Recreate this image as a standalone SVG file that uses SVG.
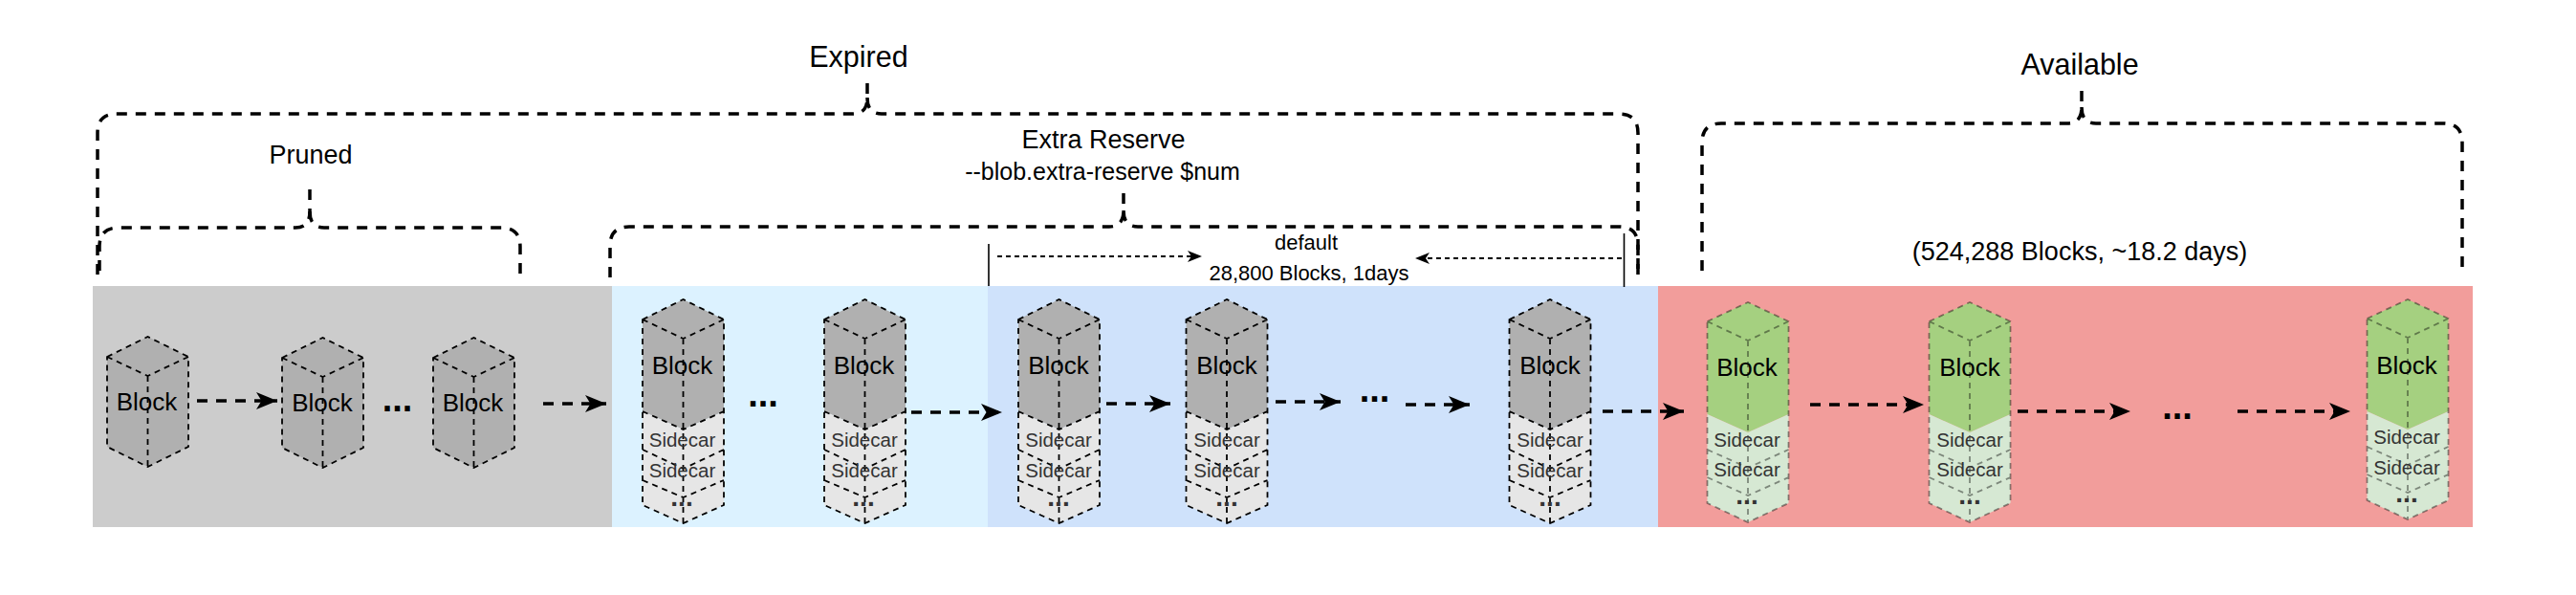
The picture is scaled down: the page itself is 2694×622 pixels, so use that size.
<svg xmlns="http://www.w3.org/2000/svg" xmlns:xlink="http://www.w3.org/1999/xlink" width="2694" height="622" viewBox="0 0 2694 622">
<style>
text{font-family:"Liberation Sans",Arial,sans-serif;text-anchor:middle;fill:#000}
.bl{font-size:26px}
.sc{font-size:20.500px;fill:#333}
.dt{font-size:28px;font-weight:bold;fill:#333}
.dm{font-size:38px;font-weight:bold}
.brace{fill:none;stroke:#000;stroke-width:3.5;stroke-dasharray:11 9}
.conn{fill:none;stroke:#000;stroke-width:3.5;stroke-dasharray:11 9;marker-end:url(#ah)}
.thin{fill:none;stroke:#000;stroke-width:2;stroke-dasharray:5 4;marker-end:url(#ahs)}
.tick{stroke:#000;stroke-width:1.6;fill:none}
.e{fill:none;stroke:#000;stroke-width:1.8;stroke-dasharray:6 5}
.g .e{stroke:#000;stroke-opacity:.42}
.gb{fill:#b0b0b0}.gs{fill:#e6e6e6}
.lb{fill:#a5d080}.ls{fill:#d6e8d3}
</style>
<defs>
<marker id="ah" markerUnits="userSpaceOnUse" markerWidth="24" markerHeight="20" refX="22" refY="9.5" orient="auto"><path d="M0 0.5L22 9.5L0 18.5L5.5 9.5Z" fill="#000"/></marker>
<marker id="ahs" markerUnits="userSpaceOnUse" markerWidth="16" markerHeight="14" refX="15" refY="6.5" orient="auto"><path d="M0 0.5L15 6.5L0 12.5L4 6.5Z" fill="#000"/></marker>
<g id="cube">
<path class="gb" d="M0 21L42.5 0L85 21V115L42.5 136L0 115Z"/>
<path class="e" d="M0 21L42.5 0L85 21V115L42.5 136L0 115ZM0 21L42.5 41L85 21M42.5 41V136"/>
</g>
<g id="stack">
<path class="gb" d="M0 21L42.5 0L85 21V117L42.5 136L0 117Z"/>
<path class="gs" d="M0 117L42.5 136L85 117V215L42.5 234L0 215Z"/>
<path class="e" d="M0 21L42.5 0L85 21V215L42.5 234L0 215ZM0 21L42.5 41L85 21M42.5 41V234M0 117L42.5 136L85 117M0 157L42.5 177L85 157M0 189L42.5 207L85 189"/>
</g>
<g id="gstack" class="g">
<path class="lb" d="M0 20L42.5 0L85 20V117L42.5 136L0 117Z"/>
<path class="ls" d="M0 117L42.5 136L85 117V210L42.5 230L0 210Z"/>
<path class="e" d="M0 20L42.5 0L85 20V210L42.5 230L0 210ZM0 20L42.5 40L85 20M42.5 40V230M0 154L42.5 173L85 154M0 183L42.5 202L85 183"/>
</g>
</defs>
<g id="backgrounds">
<rect x="97" y="299" width="543" height="252" fill="#cccccc"/>
<rect x="640" y="299" width="393" height="252" fill="#dcf2ff"/>
<rect x="1033" y="299" width="701" height="252" fill="#cfe2fb"/>
<rect x="1734" y="299" width="852" height="252" fill="#f29d9b"/>
</g>
<g id="connectors">
<path class="brace" d="M907 87V102Q907 119 892 119H122Q102 119 102 139V287"/>
<path class="brace" d="M907 102Q907 119 922 119H1693Q1713 119 1713 139V290"/>
<path class="brace" d="M324 198V221Q324 238 309 238H124Q104 238 104 258V288"/>
<path class="brace" d="M324 221Q324 238 339 238H524Q544 238 544 258V288"/>
<path class="brace" d="M1175 202V220Q1175 237 1160 237H658Q638 237 638 257V299"/>
<path class="brace" d="M1175 220Q1175 237 1190 237H1693Q1713 237 1713 257V290"/>
<path class="brace" d="M2177 95V112Q2177 129 2162 129H1800Q1780 129 1780 149V290"/>
<path class="brace" d="M2177 112Q2177 129 2192 129H2555Q2575 129 2575 149V285"/>
<path class="tick" d="M1034 255V299M1698.5 244V300"/>
<path class="thin" d="M1043 268H1257"/>
<path class="thin" d="M1696 270H1480"/>
<path class="conn" d="M206 419H290"/>
<path class="conn" d="M568 422H634"/>
<path class="conn" d="M953 431H1048"/>
<path class="conn" d="M1157 422H1224"/>
<path class="conn" d="M1334 420H1402"/>
<path class="conn" d="M1470 423H1537"/>
<path class="conn" d="M1676 430H1761"/>
<path class="conn" d="M1893 423H2012"/>
<path class="conn" d="M2110 430H2228"/>
<path class="conn" d="M2340 430H2458"/>
</g>
<g id="labels">
<text x="898" y="70" font-size="30.500">Expired</text>
<text x="325" y="171" font-size="27">Pruned</text>
<text x="1154" y="155" font-size="27">Extra Reserve</text>
<text x="1153" y="188" font-size="25">--blob.extra-reserve $num</text>
<text x="1366" y="261" font-size="22">default</text>
<text x="1369" y="293" font-size="22">28,800 Blocks, 1days</text>
<text x="2175" y="78" font-size="30.500">Available</text>
<text x="2175" y="272" font-size="27">(524,288 Blocks, ~18.2 days)</text>
<text class="dm" x="415.500" y="430">...</text>
<text class="dm" x="798" y="425">...</text>
<text class="dm" x="1437.500" y="420">...</text>
<text class="dm" x="2277" y="438">...</text>
</g>
<g id="block-p1"><use href="#cube" x="112" y="352"/><text class="bl" x="153.500" y="429">Block</text></g>
<g id="block-p2"><use href="#cube" x="295" y="353"/><text class="bl" x="337" y="430">Block</text></g>
<g id="block-p3"><use href="#cube" x="453" y="353"/><text class="bl" x="494.500" y="430">Block</text></g>
<g id="block-e1"><use href="#stack" x="672" y="313"/><text class="bl" x="713.500" y="391">Block</text><text class="sc" x="713.500" y="467">Sidecar</text><text class="sc" x="713.500" y="499">Sidecar</text><text class="dt" x="713" y="529">...</text></g>
<g id="block-e2"><use href="#stack" x="862" y="313"/><text class="bl" x="903.500" y="391">Block</text><text class="sc" x="904" y="467">Sidecar</text><text class="sc" x="904" y="499">Sidecar</text><text class="dt" x="903" y="529">...</text></g>
<g id="block-d1"><use href="#stack" x="1065" y="313"/><text class="bl" x="1107" y="391">Block</text><text class="sc" x="1107" y="467">Sidecar</text><text class="sc" x="1107" y="499">Sidecar</text><text class="dt" x="1107" y="529">...</text></g>
<g id="block-d2"><use href="#stack" x="1240.500" y="313"/><text class="bl" x="1283" y="391">Block</text><text class="sc" x="1283" y="467">Sidecar</text><text class="sc" x="1283" y="499">Sidecar</text><text class="dt" x="1283" y="529">...</text></g>
<g id="block-d3"><use href="#stack" x="1578.500" y="313"/><text class="bl" x="1621" y="391">Block</text><text class="sc" x="1621" y="467">Sidecar</text><text class="sc" x="1621" y="499">Sidecar</text><text class="dt" x="1621" y="529">...</text></g>
<g id="block-a1"><use href="#gstack" x="1785.500" y="316"/><text class="bl" x="1827" y="393">Block</text><text class="sc" x="1827" y="467">Sidecar</text><text class="sc" x="1827" y="498">Sidecar</text><text class="dt" x="1827" y="527">...</text></g>
<g id="block-a2"><use href="#gstack" x="2017.500" y="316"/><text class="bl" x="2060" y="393">Block</text><text class="sc" x="2060" y="467">Sidecar</text><text class="sc" x="2060" y="498">Sidecar</text><text class="dt" x="2060" y="527">...</text></g>
<g id="block-a3"><use href="#gstack" x="2475.500" y="313"/><text class="bl" x="2517" y="391">Block</text><text class="sc" x="2517" y="464">Sidecar</text><text class="sc" x="2517" y="496">Sidecar</text><text class="dt" x="2517" y="525">...</text></g>
</svg>
